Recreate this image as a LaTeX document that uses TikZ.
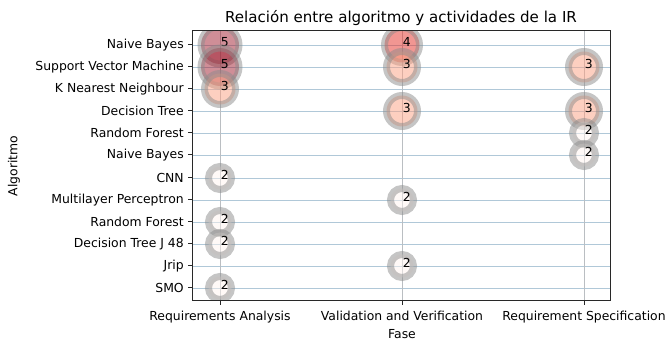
\documentclass[tikz,border=0pt]{standalone}
\usepackage{fontspec}
\setmainfont{DejaVu Sans}
\usetikzlibrary{positioning}
\definecolor{gridH}{RGB}{176,200,216}
\definecolor{gridV}{RGB}{186,190,194}
\definecolor{spine}{RGB}{40,40,40}
\definecolor{ring}{RGB}{140,140,140}
\definecolor{valFive}{RGB}{160,30,48}
\definecolor{valFour}{RGB}{228,46,38}
\definecolor{valThree}{RGB}{252,160,130}
\definecolor{valTwo}{RGB}{255,245,240}
\begin{document}
\begin{tikzpicture}[x=0.75pt,y=-0.75pt,
	every node/.style={font=\fontsize{9.3}{11}\selectfont},
	ylab/.style={anchor=east, inner sep=0pt},
	xlab/.style={anchor=north, inner sep=0pt},
	bubble/.style={circle, draw=ring, line width=5.25pt, opacity=0.5, inner sep=0pt},
	five/.style={bubble, fill=valFive, minimum size=28.5pt},
	four/.style={bubble, fill=valFour, minimum size=26.25pt},
	three/.style={bubble, fill=valThree, minimum size=23.25pt},
	two/.style={bubble, fill=valTwo, minimum size=17.25pt},
	count/.style={opacity=1, xshift=3.6pt, yshift=2.2pt, inner sep=0pt}]
	\useasboundingbox[fill=white] (0,0) rectangle (666,341);

	% Corners of the axes
	\coordinate (axNW) at (192,31);
	\coordinate (axSE) at (610,301);

	% Rows (algorithms) on the left axis
	\coordinate (rowNB)		at (192,45);
	\coordinate (rowSVM)	at (192,67);
	\coordinate (rowKNN)	at (192,89);
	\coordinate (rowDT)		at (192,111);
	\coordinate (rowRF)		at (192,133);
	\coordinate (rowNBb)	at (192,155);
	\coordinate (rowCNN)	at (192,178);
	\coordinate (rowMLP)	at (192,200);
	\coordinate (rowRFb)	at (192,222);
	\coordinate (rowJ48)	at (192,244);
	\coordinate (rowJrip)	at (192,266);
	\coordinate (rowSMO)	at (192,288);

	% Columns (phases) on the bottom axis
	\coordinate (colRA)		at (220,301);
	\coordinate (colVV)		at (402,301);
	\coordinate (colRS)		at (584,301);

	% Grid
	\foreach \r in {rowNB,rowSVM,rowKNN,rowDT,rowRF,rowNBb,rowCNN,rowMLP,rowRFb,rowJ48,rowJrip,rowSMO}
		\draw[gridH, line width=0.6pt] (\r) -- (\r -| axSE);
	\foreach \c in {colRA,colVV,colRS}
		\draw[gridV, line width=0.6pt] (\c) -- (\c |- axNW);

	% Bubbles, clipped to the axes
	\begin{scope}
	\clip (axNW) rectangle (axSE);
	\node (raNB)	[five,	label={[count]center:5}] at (colRA |- rowNB)	{};
	\node (raSVM)	[five,	label={[count]center:5}] at (colRA |- rowSVM)	{};
	\node (raKNN)	[three,	label={[count]center:3}] at (colRA |- rowKNN)	{};
	\node (raCNN)	[two,	label={[count]center:2}] at (colRA |- rowCNN)	{};
	\node (raRF)	[two,	label={[count]center:2}] at (colRA |- rowRFb)	{};
	\node (raJ48)	[two,	label={[count]center:2}] at (colRA |- rowJ48)	{};
	\node (raSMO)	[two,	label={[count]center:2}] at (colRA |- rowSMO)	{};
	\node (vvNB)	[four,	label={[count]center:4}] at (colVV |- rowNB)	{};
	\node (vvSVM)	[three,	label={[count]center:3}] at (colVV |- rowSVM)	{};
	\node (vvDT)	[three,	label={[count]center:3}] at (colVV |- rowDT)	{};
	\node (vvMLP)	[two,	label={[count]center:2}] at (colVV |- rowMLP)	{};
	\node (vvJrip)	[two,	label={[count]center:2}] at (colVV |- rowJrip)	{};
	\node (rsSVM)	[three,	label={[count]center:3}] at (colRS |- rowSVM)	{};
	\node (rsDT)	[three,	label={[count]center:3}] at (colRS |- rowDT)	{};
	\node (rsRF)	[two,	label={[count]center:2}] at (colRS |- rowRF)	{};
	\node (rsNB)	[two,	label={[count]center:2}] at (colRS |- rowNBb)	{};
	\end{scope}

	% Frame and ticks
	\draw[spine, line width=0.75pt] (axNW) rectangle (axSE);
	\foreach \r in {rowNB,rowSVM,rowKNN,rowDT,rowRF,rowNBb,rowCNN,rowMLP,rowRFb,rowJ48,rowJrip,rowSMO}
		\draw[spine, line width=0.75pt] (\r) -- ++(-4.5,0);
	\foreach \c in {colRA,colVV,colRS}
		\draw[spine, line width=0.75pt] (\c) -- ++(0,4.5);

	% Tick labels
	\node (nameNB)		[ylab, left=6pt of rowNB]		{Naive Bayes};
	\node (nameSVM)		[ylab, left=6pt of rowSVM]		{Support Vector Machine\ };
	\node (nameKNN)		[ylab, left=6pt of rowKNN]		{K Nearest Neighbour};
	\node (nameDT)		[ylab, left=6pt of rowDT]		{Decision Tree};
	\node (nameRF)		[ylab, left=6pt of rowRF]		{Random Forest\ };
	\node (nameNBb)		[ylab, left=6pt of rowNBb]		{Naive Bayes\ };
	\node (nameCNN)		[ylab, left=6pt of rowCNN]		{CNN};
	\node (nameMLP)		[ylab, left=6pt of rowMLP]		{Multilayer Perceptron};
	\node (nameRFb)		[ylab, left=6pt of rowRFb]		{Random Forest};
	\node (nameJ48)		[ylab, left=6pt of rowJ48]		{Decision Tree J 48};
	\node (nameJrip)	[ylab, left=6pt of rowJrip]		{Jrip};
	\node (nameSMO)		[ylab, left=6pt of rowSMO]		{SMO};
	\node (phaseRA)		[xlab, below=7pt of colRA]		{Requirements Analysis};
	\node (phaseVV)		[xlab, below=7pt of colVV]		{Validation and Verification};
	\node (phaseRS)		[xlab, below=7pt of colRS]		{Requirement Specification};

	% Axis labels and title
	\node (xAxis)	[below=3.5pt of phaseVV]		{Fase};
	\node (yAxis)	[rotate=90] at (14,166)			{Algoritmo};
	\node (title)	[font=\fontsize{11.3}{13}\selectfont] at (401,18)
													{Relación entre algoritmo y actividades de la IR};
\end{tikzpicture}
\end{document}
